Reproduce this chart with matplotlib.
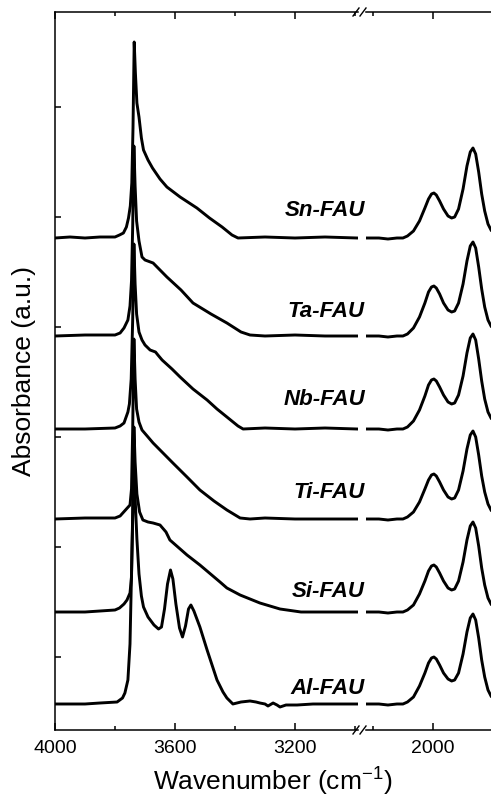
import matplotlib.pyplot as plt
import matplotlib.ticker as ticker
from matplotlib.lines import Line2D

plt.rcParams['font.family'] = ['Liberation Sans', 'DejaVu Sans']
plt.rcParams['mathtext.fontset'] = 'custom'
plt.rcParams['mathtext.rm'] = 'Liberation Sans'


# Samples, bottom to top
samples = ['Al-FAU', 'Si-FAU', 'Ti-FAU', 'Nb-FAU', 'Ta-FAU', 'Sn-FAU']
offsets = [26, 118, 211, 301, 394, 492]        # stacking offset of each trace (a.u.)
label_heights = [10, 15, 21, 24, 19, 22]       # label baseline above each trace

# OH stretching region (4000 - 2990 cm-1), absorbance above baseline
wn_oh_al = [4000, 3900, 3850, 3793, 3775, 3767, 3757, 3750, 3745, 3740, 3736, 3732, 3727,
            3720, 3712, 3705, 3690, 3670, 3655, 3645, 3635, 3625, 3615, 3607, 3597, 3585,
            3575, 3565, 3555, 3547, 3537, 3517, 3493, 3460, 3440, 3427, 3407, 3380, 3350,
            3330, 3317, 3300, 3290, 3273, 3260, 3250, 3230, 3193, 3140, 3093, 2993]
abs_oh_al = [0, 0, 1, 2, 6, 11, 24, 60, 130, 200, 240, 200, 165,
             130, 108, 97, 87, 79, 75, 77, 95, 120, 134, 125, 100, 76,
             67, 78, 95, 99, 93, 77, 54, 24, 12, 6, 0, 2, 3,
             2, 1, 0, -2, 1, -1, -3, -1, -1, 0, 0, 0]

wn_oh_si = [4000, 3900, 3800, 3785, 3770, 3760, 3750, 3745, 3741, 3737, 3733, 3727, 3718,
            3707, 3690, 3673, 3650, 3630, 3617, 3560, 3517, 3450, 3427, 3383, 3317, 3250,
            3180, 3100, 2993]
abs_oh_si = [0, 0, 2, 4, 8, 12, 19, 35, 100, 185, 150, 118, 100,
             92, 90, 89, 87, 80, 72, 57, 47, 30, 24, 17, 9, 3,
             0, 0, 0]

wn_oh_ti = [4000, 3900, 3800, 3783, 3768, 3750, 3745, 3741, 3737, 3733, 3728, 3720, 3710,
            3690, 3673, 3640, 3607, 3560, 3517, 3470, 3427, 3383, 3350, 3300, 3200, 3100, 2993]
abs_oh_ti = [0, 1, 1, 3, 8, 14, 30, 90, 180, 140, 110, 97, 89,
             82, 76, 66, 56, 42, 29, 18, 9, 1, 0, 1, 0, 0, 0]

wn_oh_nb = [4000, 3900, 3800, 3783, 3770, 3757, 3752, 3746, 3741, 3737, 3733, 3728, 3720,
            3710, 3700, 3683, 3665, 3657, 3643, 3610, 3583, 3540, 3493, 3460, 3427, 3390,
            3373, 3300, 3200, 3100, 2993]
abs_oh_nb = [0, 0, 1, 3, 6, 17, 25, 50, 110, 185, 145, 115, 97,
             89, 84, 79, 77, 74, 69, 60, 52, 40, 29, 20, 12, 3,
             0, 1, 0, 1, 0]

wn_oh_ta = [4000, 3900, 3800, 3783, 3770, 3757, 3750, 3745, 3741, 3737, 3733, 3728, 3720,
            3710, 3700, 3673, 3650, 3627, 3580, 3540, 3480, 3427, 3380, 3350, 3300, 3200,
            3100, 2993]
abs_oh_ta = [0, 1, 1, 3, 8, 16, 30, 55, 110, 190, 150, 115, 95,
             79, 76, 73, 66, 59, 46, 33, 22, 13, 4, 1, 0, 1,
             0, 0]

wn_oh_sn = [4000, 3950, 3900, 3850, 3800, 3785, 3772, 3762, 3755, 3749, 3744, 3740, 3736,
            3732, 3727, 3720, 3712, 3705, 3690, 3675, 3650, 3627, 3583, 3527, 3485, 3443,
            3410, 3390, 3300, 3200, 3100, 2993]
abs_oh_sn = [0, 1, 0, 1, 1, 3, 5, 11, 20, 32, 55, 110, 196,
             165, 135, 121, 100, 88, 78, 70, 59, 51, 41, 30, 20, 11,
             3, 0, 1, 0, 1, 0]

# Framework overtone region (2223 - 1807 cm-1)
wn_fw = [2223, 2180, 2150, 2120, 2100, 2085, 2065, 2045, 2027, 2015, 2005, 1997, 1989,
         1978, 1965, 1950, 1938, 1928, 1915, 1900, 1887, 1876, 1867, 1858, 1848, 1838,
         1828, 1817, 1807]
abs_fw_al = [0, 0, -1, 0, 0, 2, 7, 18, 31, 41, 46, 47, 45,
             39, 31, 25, 23, 24, 31, 50, 72, 86, 90, 84, 66, 44,
             27, 14, 8]
abs_fw_si = [0, 0, -1, 0, 0, 2, 7, 18, 31, 41, 46, 47, 45,
             39, 31, 24, 22, 23, 31, 50, 72, 86, 90, 84, 66, 44,
             27, 14, 8]
abs_fw_ti = [0, 0, -1, 0, 0, 2, 7, 17, 30, 39, 44, 45, 43,
             37, 29, 22, 20, 21, 29, 48, 70, 84, 88, 82, 64, 43,
             27, 15, 9]
abs_fw_nb = [0, 0, -1, 0, 0, 2, 8, 19, 33, 44, 49, 50, 48,
             42, 34, 27, 25, 26, 34, 53, 76, 91, 95, 89, 70, 48,
             30, 17, 11]
abs_fw_ta = [0, 0, -1, 0, 0, 2, 8, 19, 33, 44, 49, 50, 48,
             42, 33, 26, 24, 25, 33, 52, 75, 90, 94, 88, 69, 47,
             29, 16, 10]
abs_fw_sn = [0, 0, -1, 0, 0, 2, 7, 17, 30, 39, 44, 45, 43,
             37, 29, 22, 20, 21, 29, 49, 72, 86, 90, 84, 66, 44,
             27, 14, 8]

oh_traces = [(wn_oh_al, abs_oh_al), (wn_oh_si, abs_oh_si), (wn_oh_ti, abs_oh_ti),
             (wn_oh_nb, abs_oh_nb), (wn_oh_ta, abs_oh_ta), (wn_oh_sn, abs_oh_sn)]
fw_traces = [abs_fw_al, abs_fw_si, abs_fw_ti, abs_fw_nb, abs_fw_ta, abs_fw_sn]


W, H = 491, 797   # figure size in pixels


# pixel box -> figure rect
def rect(x0, x1, y_top, y_bot):
    return [x0 / W, (H - y_bot) / H, (x1 - x0) / W, (y_bot - y_top) / H]


def styleAxis(ax):
    ax.xaxis.set_major_locator(ticker.MultipleLocator(400))
    ax.xaxis.set_minor_locator(ticker.MultipleLocator(200))
    ax.tick_params(axis='x', which='both', direction='in', top=True, labelsize=14, pad=7)
    ax.tick_params(axis='x', which='major', length=5, width=1.1)
    ax.tick_params(axis='x', which='minor', length=3, width=1.1)
    for s in ax.spines.values():
        s.set_linewidth(1.1)


# Draw the "//" break marks on top and bottom spines
def breakMarks(fig):
    for y in (12, 730):
        for xc in (356, 363):
            fig.add_artist(Line2D([(xc - 3) / W, (xc + 3) / W],
                                  [(H - y - 4) / H, (H - y + 4) / H],
                                  transform=fig.transFigure, color='black', lw=1.0))


def main():
    fig = plt.figure(figsize=(W / 100, H / 100), dpi=100)
    ax1 = fig.add_axes(rect(55, 358, 12, 730))
    ax2 = fig.add_axes(rect(366, 491, 12, 730), sharey=ax1)

    for i in range(len(samples)):
        wn, a = oh_traces[i]
        ax1.plot(wn, [v + offsets[i] for v in a], color='black', lw=2.1)
        ax2.plot(wn_fw, [v + offsets[i] for v in fw_traces[i]], color='black', lw=2.1)
        ax1.text(2967, offsets[i] + label_heights[i], samples[i], ha='right', va='baseline',
                 fontsize=16, fontweight='bold', fontstyle='italic', clip_on=False)

    ax1.set_xlim(4000, 2990)
    ax2.set_xlim(2223, 1807)
    ax1.set_ylim(0, 718)

    styleAxis(ax1)
    styleAxis(ax2)
    ax1.spines['right'].set_visible(False)
    ax2.spines['left'].set_visible(False)
    ax2.spines['right'].set_visible(False)

    ax1.set_yticks(range(73, 718, 110))
    ax1.tick_params(axis='y', direction='in', length=4, width=1.1, labelleft=False)
    ax2.tick_params(axis='y', left=False, labelleft=False)

    breakMarks(fig)

    fig.text(273 / W, 7 / H, 'Wavenumber (cm$^{\\mathregular{-1}}$)', ha='center',
             va='baseline', fontsize=19)
    fig.text(24 / W, (H - 371) / H, 'Absorbance (a.u.)', rotation=90, ha='center',
             va='center', fontsize=19)

    fig.savefig('out.png', dpi=100)


if __name__ == "__main__":
    main()
